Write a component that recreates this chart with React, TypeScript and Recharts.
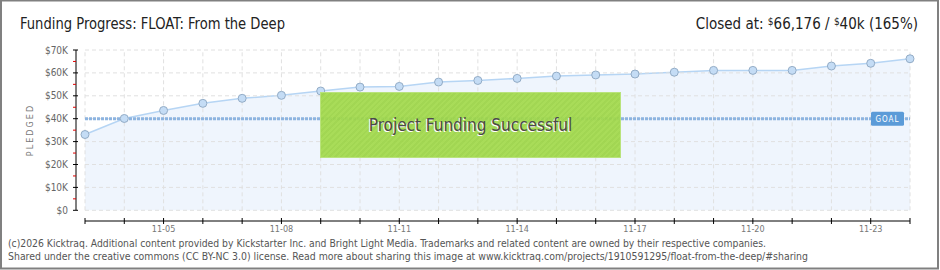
import React from "react";
import { ComposedChart, Area, XAxis, YAxis, ReferenceLine } from "recharts";

const dates = [
  "11-03", "11-04", "11-05", "11-06", "11-07", "11-08", "11-09", "11-10", "11-11", "11-12", "11-13",
  "11-14", "11-15", "11-16", "11-17", "11-18", "11-19", "11-20", "11-21", "11-22", "11-23", "11-24",
];
const pledged = [
  33100, 40100, 43600, 46700, 48900, 50200, 52100, 53800, 54100, 56000, 56700,
  57600, 58600, 59100, 59500, 60300, 61100, 61100, 61100, 63000, 64200, 66176,
];
const labelDates = ["11-05", "11-08", "11-11", "11-14", "11-17", "11-20", "11-23"];
const yTicks = [0, 5000, 10000, 15000, 20000, 25000, 30000, 35000, 40000, 45000, 50000, 55000, 60000, 65000, 70000];
const gridValues = [0, 10000, 20000, 30000, 40000, 50000, 60000, 70000];
const goal = 40000;

const data = dates.map((date, i) => ({ date, pledged: pledged[i] }));

const FONT = "'DejaVu Sans Condensed', 'Liberation Sans Narrow', 'DejaVu Sans', sans-serif";

function YTick({ x, y, payload }: any) {
  const v = payload.value as number;
  if (v % 10000 !== 0) {
    return <line x1={x - 3} x2={x} y1={y} y2={y} stroke="#e00000" />;
  }
  return (
    <g>
      <line x1={x - 3} x2={x + 2} y1={y} y2={y} stroke="#000" />
      <text x={x - 8} y={y} dy={3.5} textAnchor="end" fontSize={10} fill="#666" fontFamily={FONT}>
        {"$" + v / 1000 + (v === 0 ? "" : "K")}
      </text>
    </g>
  );
}

function XTick({ x, y, payload }: any) {
  const show = labelDates.includes(payload.value);
  return (
    <g>
      <line x1={x} x2={x} y1={y - 3} y2={y + 3} stroke="#000" />
      {show && (
        <text x={x} y={y + 11} textAnchor="middle" fontSize={9} fill="#777" fontFamily={FONT}>
          {payload.value}
        </text>
      )}
    </g>
  );
}

function GoalBadge({ viewBox }: any) {
  const right = viewBox.x + viewBox.width - 6;
  return (
    <g>
      <rect x={right - 33} y={viewBox.y - 7} width={33} height={14} rx={1.5} fill="#5b9bd8" />
      <text x={right - 16.5} y={viewBox.y} dy={3} textAnchor="middle" fontSize={8} fill="#fff"
        fontFamily={FONT} letterSpacing={1}>GOAL</text>
    </g>
  );
}

export default function App() {
  const first = dates[0];
  const last = dates[dates.length - 1];
  return (
    <div style={{ position: "absolute", left: 0, top: 0, width: 940, height: 270, background: "#fff" }}>
      <ComposedChart width={940} height={270} data={data} margin={{ top: 50, right: 30, bottom: 19, left: 16 }}>
        <XAxis
          dataKey="date"
          scale="point"
          interval={0}
          height={30}
          padding={{ left: 9, right: 0 }}
          tickSize={0}
          tickMargin={0}
          tickLine={false}
          axisLine={{ stroke: "#000", strokeDasharray: "0 9 826 20" }}
          tick={<XTick />}
        />
        <YAxis
          domain={[0, 70000]}
          ticks={yTicks}
          interval={0}
          width={60}
          padding={{ top: 0, bottom: 10.7 }}
          tickSize={0}
          tickMargin={0}
          tickLine={false}
          axisLine={{ stroke: "#000", strokeDasharray: "160 20" }}
          tick={<YTick />}
        />
        {gridValues.map((v) => (
          <ReferenceLine key={"h" + v} segment={[{ x: first, y: v }, { x: last, y: v }]}
            stroke="#e0e0e0" strokeDasharray="4 3" />
        ))}
        {dates.map((d) => (
          <ReferenceLine key={"v" + d} segment={[{ x: d, y: 0 }, { x: d, y: 70000 }]}
            stroke="#e0e0e0" strokeDasharray="4 3" />
        ))}
        <Area
          type="linear"
          dataKey="pledged"
          stroke="#b6d5f4"
          strokeWidth={1.5}
          fill="#5ea0e8"
          fillOpacity={0.1}
          dot={{ r: 4, fill: "#c4dcf5", stroke: "#93acc6", strokeWidth: 1, fillOpacity: 1 }}
          isAnimationActive={false}
        />
        <ReferenceLine segment={[{ x: first, y: goal }, { x: last, y: goal }]}
          stroke="#8db4e0" strokeWidth={3} strokeDasharray="3 1" label={<GoalBadge />} />
      </ComposedChart>

      <div
        style={{
          position: "absolute", left: 320, top: 92, width: 299, height: 64,
          background: "repeating-linear-gradient(135deg, rgba(163,218,76,0.93) 0 2px, rgba(156,212,70,0.93) 2px 4px)",
          border: "1px solid #b9e37c",
          display: "flex", alignItems: "center", justifyContent: "center",
          fontFamily: FONT, fontSize: 17, color: "#4a4a4a", textShadow: "-1px 1px 0 #fff",
        }}
      >
        Project Funding Successful
      </div>

      <svg width={940} height={270} style={{ position: "absolute", left: 0, top: 0, pointerEvents: "none" }}>
        <rect x={1} y={0.5} width={937} height={268} fill="none" stroke="#808080" strokeWidth={2} />
        <text x={20} y={29} fontSize={15} fill="#222" fontFamily={FONT} textLength={265} lengthAdjust="spacingAndGlyphs">
          Funding Progress: FLOAT: From the Deep
        </text>
        <text x={918} y={29} textAnchor="end" fontSize={15} fill="#222" fontFamily={FONT}>
          Closed at:{"  "}
          <tspan fontSize={10} dy={-4}>$</tspan>
          <tspan dy={4}>66,176 / </tspan>
          <tspan fontSize={10} dy={-4}>$</tspan>
          <tspan dy={4}>40k (165%)</tspan>
        </text>
        <text x={33} y={130} transform="rotate(-90 33 130)" textAnchor="middle" fontSize={9} fill="#777"
          fontFamily={FONT} letterSpacing={2}>PLEDGED</text>
        <text x={8} y={247} fontSize={10} fill="#555" fontFamily={FONT} textLength={758} lengthAdjust="spacingAndGlyphs">
          (c)2026 Kicktraq. Additional content provided by Kickstarter Inc. and Bright Light Media. Trademarks and related content are owned by their respective companies.
        </text>
        <text x={8} y={260} fontSize={10} fill="#555" fontFamily={FONT} textLength={800} lengthAdjust="spacingAndGlyphs">
          Shared under the creative commons (CC BY-NC 3.0) license. Read more about sharing this image at www.kicktraq.com/projects/1910591295/float-from-the-deep/#sharing
        </text>
      </svg>
    </div>
  );
}
